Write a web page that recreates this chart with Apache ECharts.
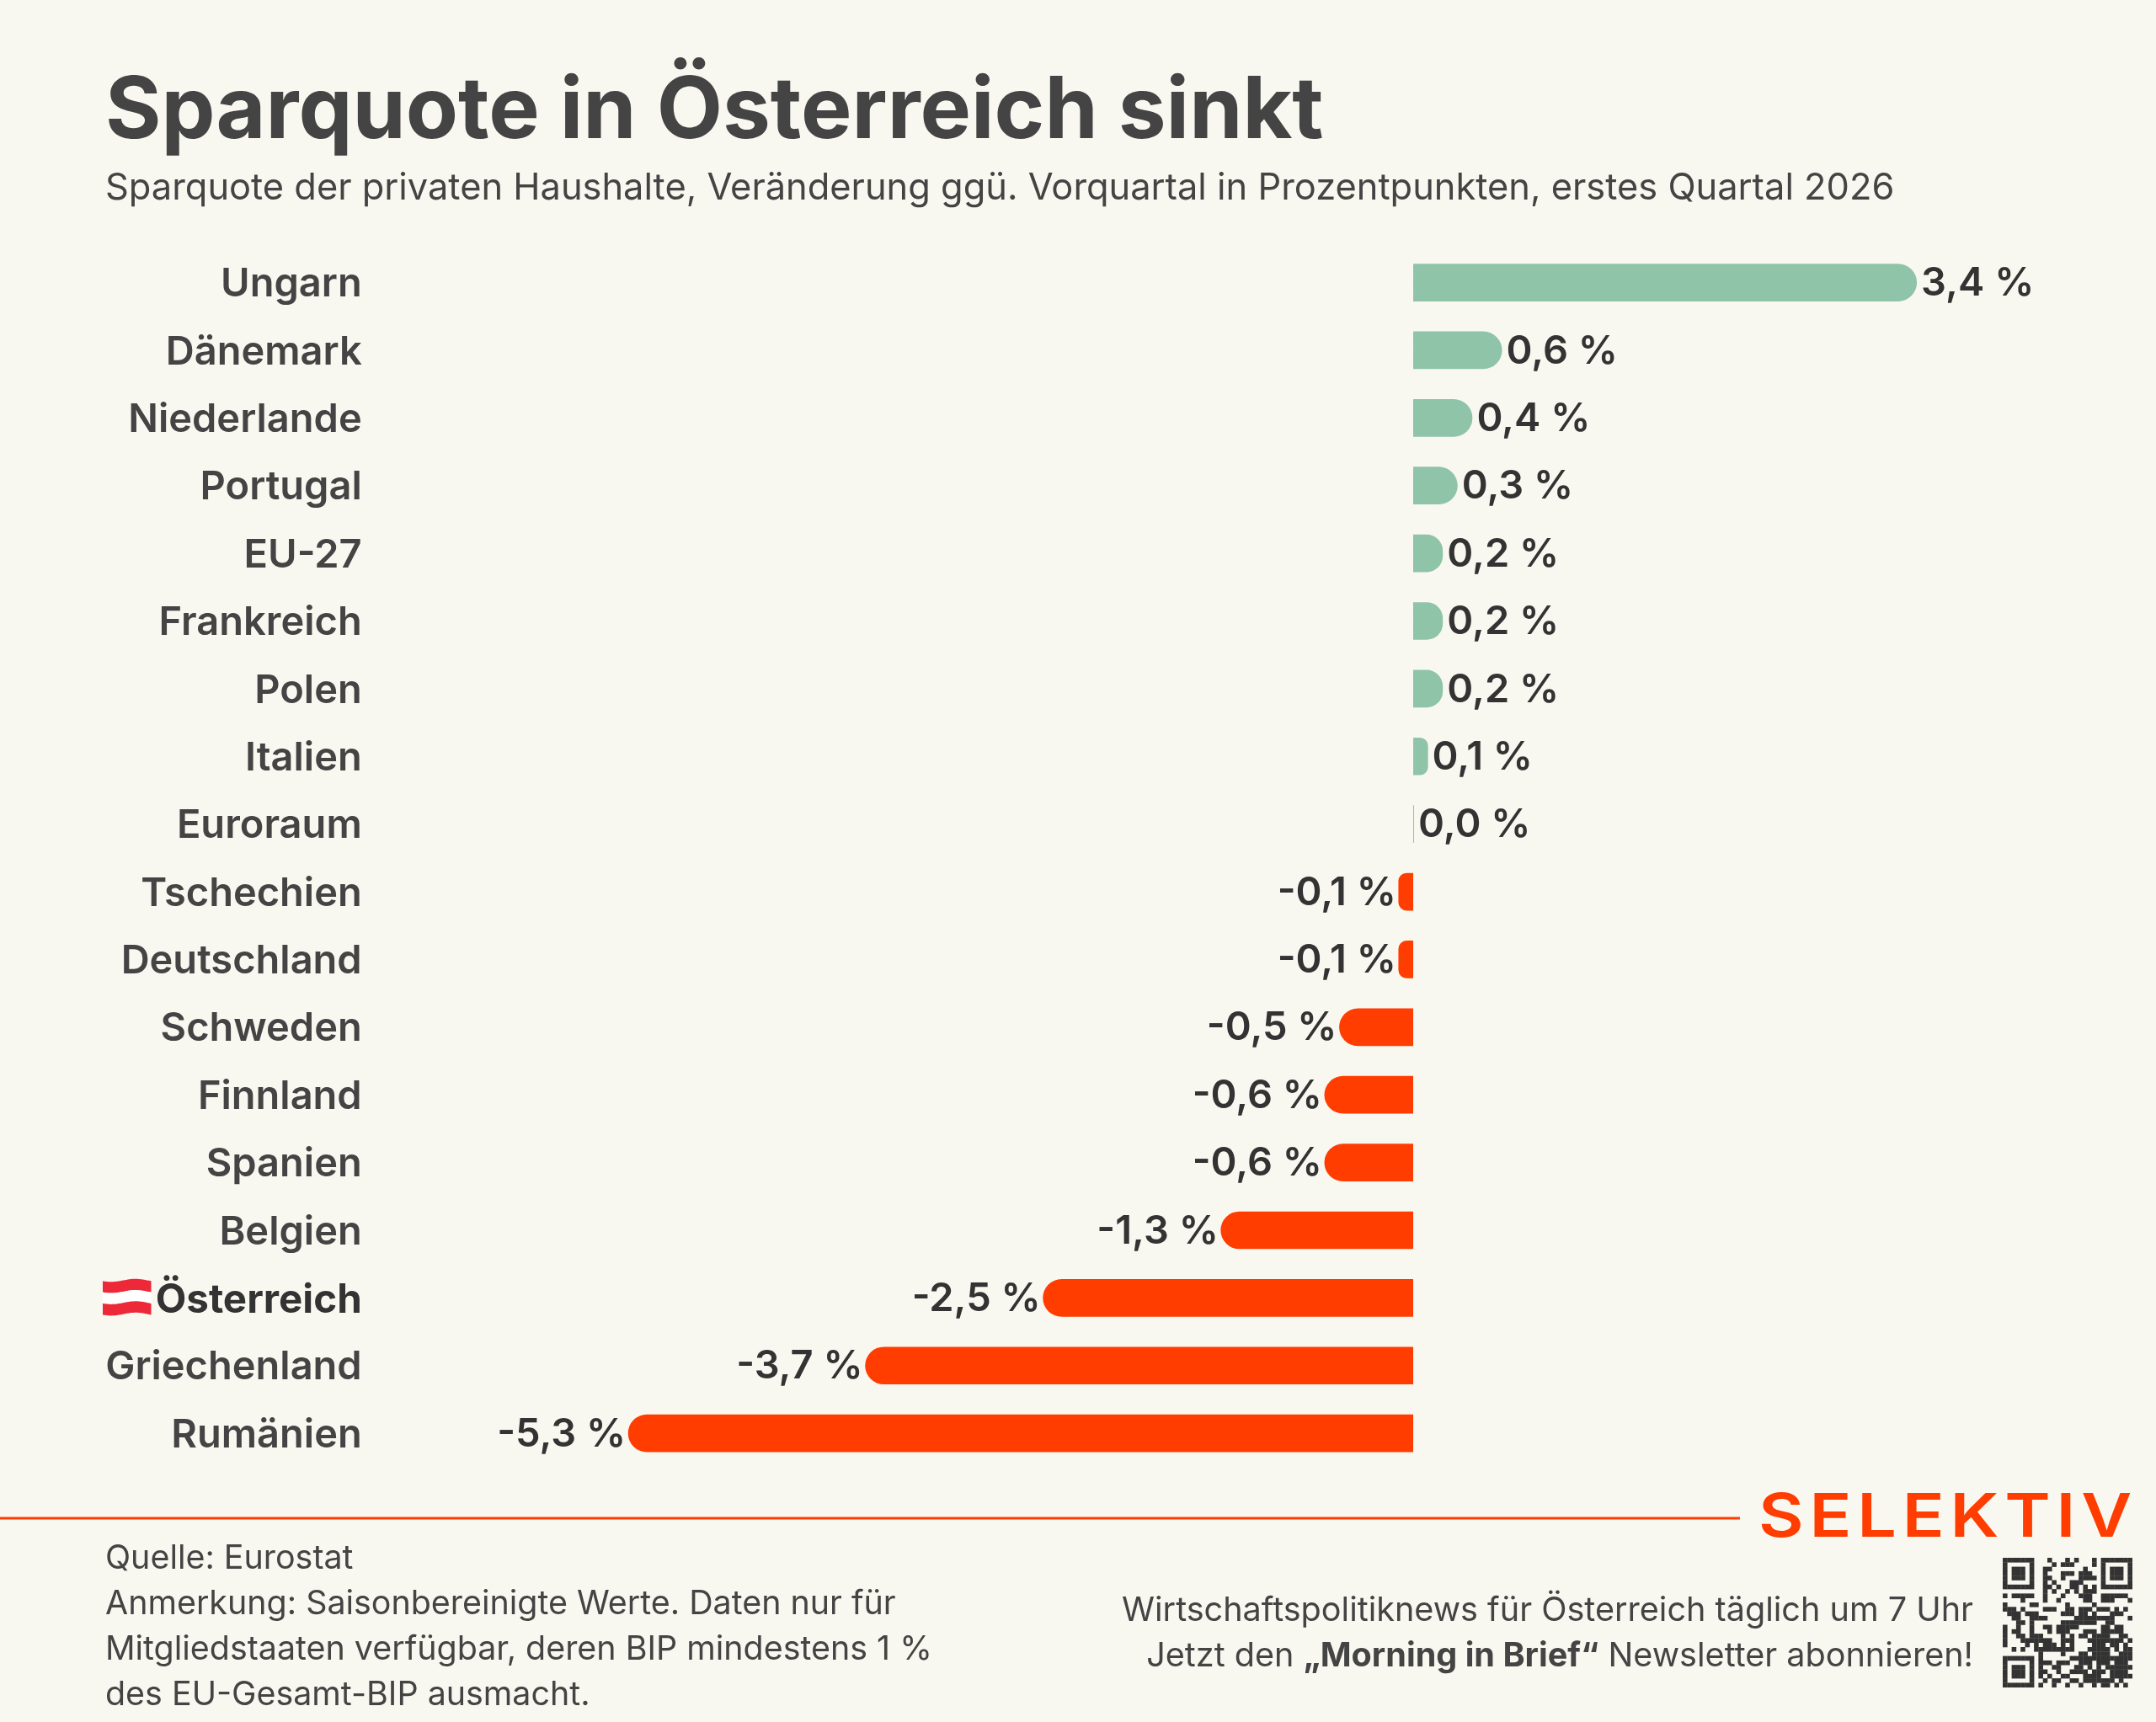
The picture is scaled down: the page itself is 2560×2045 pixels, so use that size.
<!DOCTYPE html>
<html><head><meta charset="utf-8">
<style>html,body{margin:0;padding:0;background:#F9F8F0}#c{width:2560px;height:2045px}</style>
<script src="https://cdn.jsdelivr.net/npm/echarts@6/dist/echarts.min.js"></script>
</head><body><div id="c"></div>
<script>
const categories = ["Ungarn","Dänemark","Niederlande","Portugal","EU-27","Frankreich","Polen","Italien","Euroraum","Tschechien","Deutschland","Schweden","Finnland","Spanien","Belgien","Österreich","Griechenland","Rumänien"];
const values = [3.4,0.6,0.4,0.3,0.2,0.2,0.2,0.1,0.0,-0.1,-0.1,-0.5,-0.6,-0.6,-1.3,-2.5,-3.7,-5.3];
const titleText = "Sparquote in Österreich sinkt";
const subtitleText = "Sparquote der privaten Haushalte, Veränderung ggü. Vorquartal in Prozentpunkten, erstes Quartal 2026";
const footerLeft = ["Quelle: Eurostat","Anmerkung: Saisonbereinigte Werte. Daten nur für","Mitgliedstaaten verfügbar, deren BIP mindestens 1 %","des EU-Gesamt-BIP ausmacht."];
const qrRows = [
"11111110001000101000101111111",
"10000010000101110000101000001",
"10111010011000000010001011101",
"10111010010001110111001011101",
"10111010011001000111101011101",
"10000010010100011100001000001",
"11111110011010011010101111111",
"00000000010100101011100000000",
"10111110010001000111001111110",
"00001000010010000011001110001",
"10000011000000100000100000000",
"11101000011100110111011101010",
"01110111000001110110100011100",
"00110011110000001111111110001",
"00011010000001111111100110000",
"10010010011011111000001101100",
"10110010001011100011101111100",
"10011011100001010110111100110",
"10001111111001110001111111101",
"10000101011101010000111011010",
"00101001111111110001111101011",
"00000000100001000110111100111",
"11111110100000011111111111111",
"10000010111011100111011101110",
"10111010100110001101010111111",
"10111010110010011110111011110",
"10111010101001100011110011111",
"10000010010110011011111110100",
"11111110100100100100101101010"];

const GREEN="#8FC4A9", RED="#FF3D00", BG="#F9F8F0", DARK="#444444", LABEL="#333333";
const FONT="Inter";
const pxPerUnit=175.9, barW=44.7;
const radiusFor=v=>Math.min(barW/2,Math.abs(v)*pxPerUnit*0.55);

const chart=echarts.init(document.getElementById('c'),null,{renderer:'canvas',width:2560,height:2045});

const qrX=2378,qrY=1850,qrM=5.3;
const qrCells=[];
qrRows.forEach((row,r)=>{[...row].forEach((ch,c)=>{ if(ch==='1') qrCells.push({type:'rect',shape:{x:qrX+c*qrM,y:qrY+r*qrM,width:qrM+0.3,height:qrM+0.3},style:{fill:'#333333'},silent:true}); });});

const footerGraphics=footerLeft.map((t,i)=>({type:'text',x:125,y:1851+i*54,style:{text:t,font:`400 39.4px ${FONT}`,fill:DARK,verticalAlign:'middle'},silent:true}));

// Waving Austrian flag emoji (no colour-emoji font is installed)
const flagX0=122,flagX1=179.5,flagTop=1520.5,flagStripe=13.3;
const waveY=(x,base)=>{const t=(x-flagX0)/(flagX1-flagX0);return base+1.8*Math.sin(t*Math.PI*2+Math.PI*0.15);};
const flagStripeEl=(k,fill)=>{const xs=[],n=24;for(let i=0;i<=n;i++)xs.push(flagX0+(flagX1-flagX0)*i/n);
  const top=flagTop+k*flagStripe,bot=top+flagStripe;
  const pts=xs.map(x=>[x,waveY(x,top)]).concat(xs.slice().reverse().map(x=>[x,waveY(x,bot)+0.2]));
  return {type:'polygon',shape:{points:pts},style:{fill},silent:true};};

chart.setOption({
  animation:false,
  backgroundColor:BG,
  title:[
    {text:titleText,left:120,top:77,textStyle:{fontFamily:FONT,fontSize:101.6,fontWeight:700,color:DARK}},
    {text:subtitleText,left:120,top:197,textStyle:{fontFamily:FONT,fontSize:43.4,fontWeight:400,color:DARK}}
  ],
  grid:{left:446.7,top:295.35,width:2022.9,height:1447,containLabel:false},
  xAxis:{type:'value',min:-7,max:4.5,interval:1,show:false,splitLine:{show:false}},
  yAxis:{type:'category',inverse:true,data:categories,axisLine:{show:false},axisTick:{show:false},splitLine:{show:false},
    axisLabel:{interval:0,margin:17,align:'right',
      formatter:v=>v==="Österreich"?`{b|${v}}`:`{n|${v}}`,
      rich:{n:{fontFamily:FONT,fontSize:47,fontWeight:600,color:DARK,padding:[5,0,0,0]},b:{fontFamily:FONT,fontSize:47.5,fontWeight:700,color:LABEL,padding:[7,0,0,0]}}}},
  series:[{type:'bar',barWidth:barW,barMinHeight:1,
    data:values.map(v=>{const r=radiusFor(v);return {value:v,
      itemStyle:{color:v>=0?GREEN:RED,borderRadius:v>=0?[0,r,r,0]:[r,0,0,r]},
      label:{position:v>=0?'right':'left',offset:v>=0?[0,1.5]:[2.5,1.5]}};}),
    label:{show:true,distance:5,fontFamily:FONT,fontSize:47,fontWeight:600,color:LABEL,
      formatter:p=>p.value.toFixed(1).replace('.',',')+' %'}
  }],
  graphic:[
    {type:'rect',shape:{x:0,y:1801.5,width:2066,height:3},style:{fill:RED},silent:true},
    {type:'text',x:2088,y:1803,scaleX:1.146,style:{text:"S\u200AE\u200AL\u200AE\u200AK\u200AT\u200AI\u200AV",font:`600 72px ${FONT}`,fill:RED,verticalAlign:'middle'},silent:true},
    ...footerGraphics,
    {type:'text',x:2343,y:1913,style:{text:"Wirtschaftspolitiknews für Österreich täglich um 7 Uhr",align:'right',verticalAlign:'middle',font:`400 39.6px ${FONT}`,fill:DARK},silent:true},
    {type:'text',x:2343,y:1967,style:{text:"Jetzt den {b|„Morning in Brief“} Newsletter abonnieren!",align:'right',verticalAlign:'middle',font:`400 39.6px ${FONT}`,fill:DARK,rich:{b:{font:`700 39.6px ${FONT}`,fill:DARK}}},silent:true},
    flagStripeEl(0,'#ED2939'),flagStripeEl(1,'#FFFFFF'),flagStripeEl(2,'#ED2939'),
    ...qrCells
  ]
});
</script></body></html>
